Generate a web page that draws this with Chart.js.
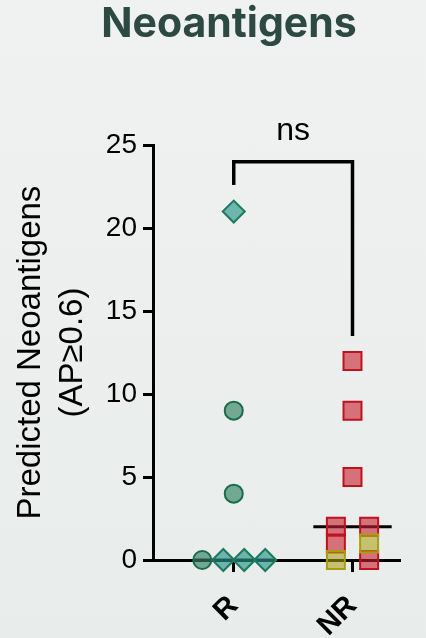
<!DOCTYPE html>
<html><head><meta charset="utf-8">
<script src="https://cdn.jsdelivr.net/npm/chart.js@4/dist/chart.umd.min.js"></script>
<style>
html,body{margin:0;padding:0;width:426px;height:638px;overflow:hidden;background:linear-gradient(#f0f2f1,#e8ecea);}
#wrap{position:relative;width:426px;height:638px;}
canvas{display:block;}
</style></head><body><div id="wrap"><canvas id="c" width="426" height="638"></canvas></div>
<script>
// ---- data ----
const chartTitle = 'Neoantigens';
const yTitleLines = ['Predicted Neoantigens', '(AP\u22650.6)'];
const categories = ['R', 'NR'];
const yTicks = [0, 5, 10, 15, 20, 25];
// R group (category 1)
const rDiamondValues = [21, 0, 0, 0];
const rDiamondJitter = [0, -0.088, 0.088, 0.265];
const rCircleValues = [9, 4, 0];
const rCircleJitter = [0, 0, -0.265];
// NR group (category 2)
const nrRedValues = [12, 9, 5, 2, 1, 2, 0];
const nrRedJitter = [0, 0, 0, -0.14, -0.14, 0.14, 0.14];
const nrYellowValues = [0, 1];
const nrYellowJitter = [-0.14, 0.14];
// significance annotation
const sigLabel = 'ns';
const bracketLevels = [22.6, 24, 24, 13.5];

// ---- helpers ----
function median(arr) {
  const s = [...arr].sort((a, b) => a - b);
  const m = Math.floor(s.length / 2);
  return s.length % 2 ? s[m] : (s[m - 1] + s[m]) / 2;
}
function pts(cat, values, jitter) {
  return values.map((v, i) => ({ x: cat + jitter[i], y: v }));
}
const rAll = [...rDiamondValues, ...rCircleValues];
const nrAll = [...nrRedValues, ...nrYellowValues];
const groupMedians = [median(rAll), median(nrAll)];
const medianHalf = 0.33;

Chart.defaults.font.family = '"Liberation Sans", Arial, sans-serif';
Chart.defaults.color = '#000';

const markerBase = { showLine: false, clip: false, pointBorderWidth: 2 };

const datasets = [
  { label: 'NR-yellow', data: pts(2, nrYellowValues, nrYellowJitter), pointStyle: 'rect', pointRadius: 12.7,
    backgroundColor: 'rgba(172,162,20,0.58)', borderColor: '#a89c12', order: 0, ...markerBase },
  { label: 'NR-red', data: pts(2, nrRedValues, nrRedJitter), pointStyle: 'rect', pointRadius: 12.7,
    backgroundColor: 'rgba(200,30,45,0.6)', borderColor: '#c0121e', order: 0, ...markerBase },
  { label: 'R-diamond', data: pts(1, rDiamondValues, rDiamondJitter), pointStyle: 'rectRot', pointRadius: 11,
    backgroundColor: 'rgba(40,150,138,0.65)', borderColor: '#1d7a5c', order: 0, ...markerBase },
  { label: 'R-circle', data: pts(1, rCircleValues, rCircleJitter), pointStyle: 'circle', pointRadius: 9,
    backgroundColor: 'rgba(50,130,100,0.65)', borderColor: '#1a6b4c', order: 0, ...markerBase },
  ...groupMedians.map((m, i) => ({
    label: 'median-' + categories[i], type: 'line', showLine: true, clip: false,
    data: [{ x: i + 1 - medianHalf, y: m }, { x: i + 1 + medianHalf, y: m }],
    borderColor: '#000', borderWidth: 3, pointRadius: 0, order: 5
  })),
  { label: 'bracket', type: 'line', showLine: true, clip: false,
    data: [{ x: 1, y: bracketLevels[0] }, { x: 1, y: bracketLevels[1] }, { x: 2, y: bracketLevels[2] }, { x: 2, y: bracketLevels[3] }],
    borderColor: '#000', borderWidth: 3.5, pointRadius: 0, borderJoinStyle: 'miter', order: 5 }
];

const layoutPlugin = {
  id: 'layoutTweaks',
  afterLayout(chart) {
    if (chart.titleBlock) chart.titleBlock.left = 58;
  },
  afterDatasetsDraw(chart) {
    const { ctx, scales: { x, y } } = chart;
    ctx.save();
    ctx.font = '32px "Liberation Sans", Arial, sans-serif';
    ctx.fillStyle = '#000';
    ctx.textAlign = 'center';
    ctx.textBaseline = 'alphabetic';
    ctx.fillText(sigLabel, x.getPixelForValue(1.5), y.getPixelForValue(bracketLevels[1]) - 22);
    ctx.restore();
  }
};

new Chart(document.getElementById('c'), {
  type: 'scatter',
  data: { datasets },
  plugins: [layoutPlugin],
  options: {
    responsive: false,
    devicePixelRatio: 1,
    animation: false,
    events: [],
    layout: { padding: { left: 0, right: 26, top: 0, bottom: 0 } },
    plugins: {
      legend: { display: false },
      tooltip: { enabled: false },
      title: {
        display: true, text: chartTitle, color: '#2c4a42',
        font: { family: 'Inter, "DejaVu Sans", sans-serif', size: 41, weight: 'bold', lineHeight: 1.2 },
        padding: { top: 0, bottom: 96 }
      }
    },
    scales: {
      x: {
        type: 'linear', min: 0.32, max: 2.4,
        afterBuildTicks: s => { s.ticks = categories.map((c, i) => ({ value: i + 1 })); },
        afterFit: s => { s.height = 78; },
        ticks: {
          autoSkip: false, minRotation: 45, maxRotation: 45, padding: 17,
          font: { size: 29, weight: 'bold' }, color: '#000',
          callback: v => categories[v - 1] ?? ''
        },
        grid: { drawOnChartArea: false, drawTicks: true, tickLength: 12, tickWidth: 3, tickColor: '#000' },
        border: { display: true, width: 3, color: '#000' }
      },
      y: {
        type: 'linear', min: 0, max: 25,
        afterBuildTicks: s => { s.ticks = yTicks.map(v => ({ value: v })); },
        afterFit: s => { s.width = 153; },
        ticks: { font: { size: 28 }, color: '#000', padding: 6 },
        grid: { drawOnChartArea: false, drawTicks: true, tickLength: 10, tickWidth: 3, tickColor: '#000' },
        border: { display: true, width: 3, color: '#000' },
        title: {
          display: true, text: yTitleLines, color: '#000',
          font: { size: 33, lineHeight: 1.3 }, padding: { top: 9, bottom: 0 }
        }
      }
    }
  }
});
</script></body></html>
